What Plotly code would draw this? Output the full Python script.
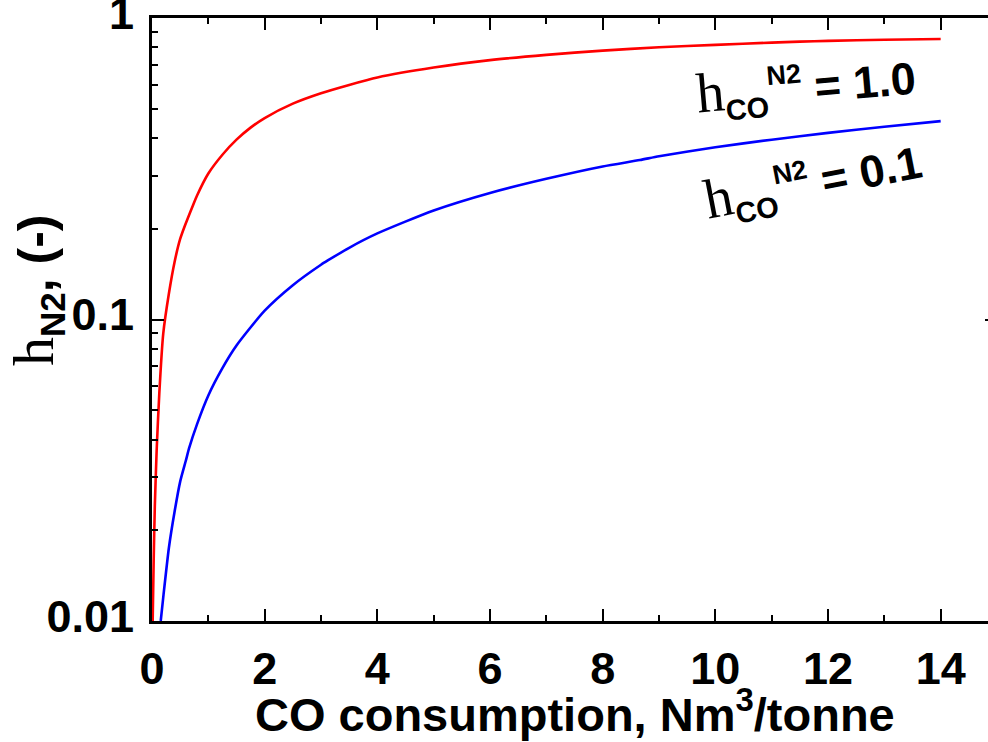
import plotly.graph_objects as go

# CO consumption (Nm3/tonne) and nitrogen removal efficiency h_N2 for two h_CO^N2 ratios
x_high = [0.012, 0.03, 0.05, 0.083, 0.13, 0.2, 0.3, 0.4, 0.5, 0.585, 0.73, 0.8, 1.0, 1.25, 1.5,
          1.75, 2.0, 2.5, 3.0, 3.5, 4.0, 5.0, 6.0, 7.0, 8.0, 9.0, 10.0, 11.0, 11.5, 12.0, 13.0, 14.0]
h_high = [0.010, 0.016, 0.024, 0.037, 0.057, 0.090, 0.122, 0.155, 0.185, 0.205, 0.240, 0.258,
          0.305, 0.352, 0.395, 0.433, 0.466, 0.520, 0.563, 0.600, 0.635, 0.685, 0.725, 0.755,
          0.780, 0.800, 0.815, 0.829, 0.835, 0.840, 0.847, 0.852]

x_low = [0.155, 0.2, 0.3, 0.4, 0.5, 0.6, 0.66, 0.8, 1.0, 1.25, 1.5, 2.0, 2.5, 3.0, 3.12, 3.5,
         4.0, 5.0, 6.0, 7.0, 8.0, 8.66, 9.0, 10.0, 11.0, 12.0, 13.0, 14.0]
h_low = [0.0100, 0.0120, 0.0175, 0.0230, 0.0290, 0.0340, 0.0375, 0.0450, 0.0560, 0.0690,
         0.0820, 0.1070, 0.1300, 0.1520, 0.1570, 0.1730, 0.1930, 0.2300, 0.2630, 0.2930,
         0.3220, 0.3380, 0.3480, 0.3730, 0.3950, 0.4160, 0.4360, 0.4550]

x_ticks = [0, 2, 4, 6, 8, 10, 12, 14]
y_ticks = [0.01, 0.1, 1]
y_tick_text = ["0.01", "0.1", "1"]
y_minor = [0.02, 0.03, 0.04, 0.05, 0.06, 0.07, 0.08, 0.09,
           0.2, 0.3, 0.4, 0.5, 0.6, 0.7, 0.8, 0.9]

SANS = "Liberation Sans, Arial, sans-serif"
SERIF = "Liberation Serif, Times New Roman, serif"

fig = go.Figure()
fig.add_trace(go.Scatter(x=x_high, y=h_high, mode="lines",
                         line=dict(color="#ff0000", width=2.6, shape="spline", smoothing=0.6),
                         showlegend=False))
fig.add_trace(go.Scatter(x=x_low, y=h_low, mode="lines",
                         line=dict(color="#0000ff", width=2.6, shape="spline", smoothing=0.6),
                         showlegend=False))

axis_common = dict(showline=True, linecolor="black", linewidth=3, mirror="ticks",
                   ticks="inside", ticklen=12, tickwidth=2, tickcolor="black",
                   showgrid=False, zeroline=False, ticklabeloverflow="allow",
                   automargin=False,
                   tickfont=dict(family=SANS, size=45, color="black", weight="bold"))

fig.update_xaxes(range=[0, 15], tickvals=x_ticks, ticklabelstandoff=6,
                 minor=dict(dtick=1, ticks="inside", ticklen=6, tickwidth=2,
                            tickcolor="black", showgrid=False),
                 **axis_common)
fig.update_yaxes(type="log", range=[-2, 0.0002], tickvals=y_ticks, ticktext=y_tick_text,
                 ticklabelstandoff=6, ticklabelshift=-5,
                 minor=dict(tickvals=y_minor, ticks="inside", ticklen=6, tickwidth=2,
                            tickcolor="black", showgrid=False),
                 **axis_common)


def h_label(sub, sup, tail, sub_px=29, sup_px=27):
    return (f'<span style="font-family:{SERIF};font-size:56px">h</span>'
            f'<sub><span style="font-size:{sub_px}px"><b>{sub}</b></span></sub>'
            f'<sup><span style="font-size:{sup_px}px"><b>{sup}</b></span></sup>'
            f'<span style="font-size:45px"><b>{tail}</b></span>')


annotations = [
    dict(text=h_label("CO", "N2", " = 1.0"), x=806, y=86, textangle=-5),
    dict(text=h_label("CO", "N2", " = 0.1"), x=813, y=181, textangle=-11),
]
for a in annotations:
    fig.add_annotation(text=a["text"], xref="paper", yref="paper",
                       x=(a["x"] - 152) / 845, y=(621 - a["y"]) / 603,
                       xanchor="center", yanchor="middle", showarrow=False,
                       textangle=a["textangle"],
                       font=dict(family=SANS, size=50, color="black"))

# axis titles
fig.add_annotation(text="<b>CO consumption, Nm<sup>3</sup>/tonne</b>",
                   xref="paper", yref="paper", x=(575 - 152) / 845, y=(621 - 711) / 603,
                   xanchor="center", yanchor="middle", showarrow=False,
                   font=dict(family=SANS, size=47, color="black"))
fig.add_annotation(text=(f'<span style="font-family:{SERIF};font-size:58px">h</span>'
                         f'<sub><span style="font-size:35px"><b>N2</b></span></sub>'
                         f'<span style="font-size:50px"><b>, (-)</b></span>'),
                   xref="paper", yref="paper", x=(36 - 152) / 845, y=(621 - 291) / 603,
                   xanchor="center", yanchor="middle", showarrow=False, textangle=-90,
                   font=dict(family=SANS, size=58, color="black"))

fig.update_layout(width=1000, height=742,
                  margin=dict(l=152, r=3, t=18, b=121),
                  paper_bgcolor="white", plot_bgcolor="white")

fig.write_html("out.html",
               post_script="document.documentElement.style.overflow='hidden';"
                           "document.body.style.overflow='hidden';document.body.style.margin='0';")
